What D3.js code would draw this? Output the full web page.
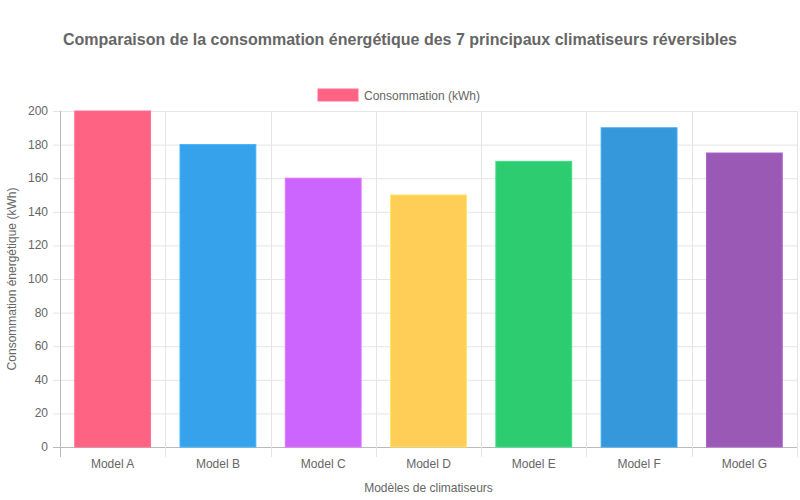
<!DOCTYPE html>
<html>
<head>
<meta charset="utf-8">
<script src="https://cdn.jsdelivr.net/npm/d3@7.9.0/dist/d3.min.js"></script>
<style>
  body { margin: 0; background: #fff; }
  text { font-family: "Liberation Sans", Arial, Helvetica, sans-serif; fill: #666; }
</style>
</head>
<body>
<svg id="chart" width="800" height="500"></svg>
<script>
const models = ["Model A", "Model B", "Model C", "Model D", "Model E", "Model F", "Model G"];
const consumption = [200, 180, 160, 150, 170, 190, 175];
const barColors = ["#FF6384", "#36A2EB", "#CC65FE", "#FFCE56", "#2ECC71", "#3498DB", "#9B59B6"];
const yTicks = [0, 20, 40, 60, 80, 100, 120, 140, 160, 180, 200];

const margin = { top: 111, right: 3, bottom: 53, left: 60 };
const width = 800, height = 500;

const svg = d3.select("#chart");

let x = d3.scaleBand()
  .domain(models)
  .range([margin.left, width - margin.right])
  .paddingInner(0)
  .paddingOuter(0);

let y = d3.scaleLinear()
  .domain([0, 200])
  .range([height - margin.bottom, margin.top]);

// grid lines
let grid = svg.append("g");
grid.selectAll("line.h")
  .data(yTicks)
  .join("line")
  .attr("x1", margin.left - 7)
  .attr("x2", width - margin.right)
  .attr("y1", (d) => y(d) + 0.5)
  .attr("y2", (d) => y(d) + 0.5)
  .attr("stroke", (d) => (d === 0 ? "#bbb" : "#e5e5e5"));

let bounds = models.map((m) => x(m)).concat([width - margin.right]);
grid.selectAll("line.v")
  .data(bounds)
  .join("line")
  .attr("x1", (d) => Math.round(d) + 0.5)
  .attr("x2", (d) => Math.round(d) + 0.5)
  .attr("y1", margin.top)
  .attr("y2", height - margin.bottom + 10)
  .attr("stroke", (d, i) => (i === 0 ? "#bbb" : "#e5e5e5"));

// bars
let bw = x.bandwidth() * 0.72;
svg.append("g")
  .selectAll("rect")
  .data(models)
  .join("rect")
  .attr("x", (d) => x(d) + (x.bandwidth() - bw) / 2)
  .attr("width", bw)
  .attr("y", (d, i) => y(consumption[i]))
  .attr("height", (d, i) => y(0) - y(consumption[i]))
  .attr("fill", (d, i) => barColors[i])
  .attr("stroke", (d, i) => d3.color(barColors[i]).brighter(0.3))
  .attr("stroke-width", 1);

// y tick labels
svg.append("g")
  .selectAll("text")
  .data(yTicks)
  .join("text")
  .attr("x", margin.left - 12)
  .attr("y", (d) => y(d) + 4)
  .attr("text-anchor", "end")
  .attr("font-size", 12)
  .text((d) => d);

// x tick labels
svg.append("g")
  .selectAll("text")
  .data(models)
  .join("text")
  .attr("x", (d) => x(d) + x.bandwidth() / 2)
  .attr("y", height - margin.bottom + 21)
  .attr("text-anchor", "middle")
  .attr("font-size", 12)
  .text((d) => d);

// axis titles
svg.append("text")
  .attr("x", (margin.left + width - margin.right) / 2)
  .attr("y", 492)
  .attr("text-anchor", "middle")
  .attr("font-size", 12)
  .text("Modèles de climatiseurs");

svg.append("text")
  .attr("transform", `translate(16,${(margin.top + height - margin.bottom) / 2}) rotate(-90)`)
  .attr("text-anchor", "middle")
  .attr("font-size", 12)
  .text("Consommation énergétique (kWh)");

// title
svg.append("text")
  .attr("x", 400)
  .attr("y", 45)
  .attr("text-anchor", "middle")
  .attr("font-size", 16)
  .attr("font-weight", "bold")
  .text("Comparaison de la consommation énergétique des 7 principaux climatiseurs réversibles");

// legend
let legend = svg.append("g");
legend.append("rect")
  .attr("x", 318)
  .attr("y", 89)
  .attr("width", 40)
  .attr("height", 12)
  .attr("fill", barColors[0])
  .attr("stroke", d3.color(barColors[0]).brighter(0.3));
legend.append("text")
  .attr("x", 364)
  .attr("y", 99.5)
  .attr("font-size", 12)
  .text("Consommation (kWh)");
</script>
</body>
</html>
